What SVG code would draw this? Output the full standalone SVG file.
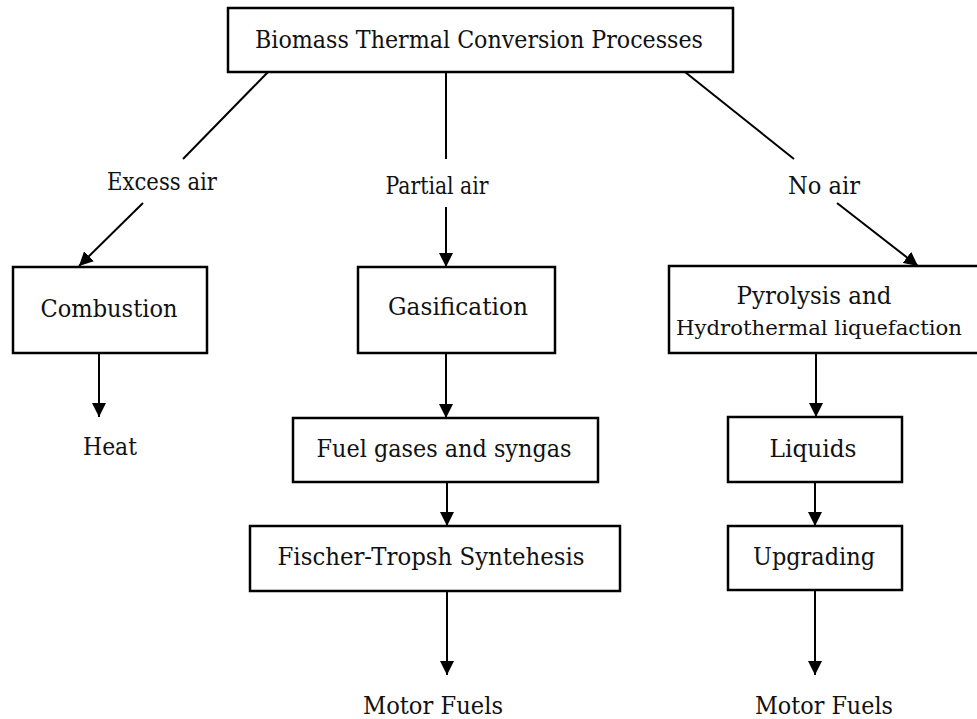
<svg xmlns="http://www.w3.org/2000/svg" width="977" height="719" viewBox="0 0 977 719">
<defs>
<marker id="ah" markerUnits="userSpaceOnUse" markerWidth="14" markerHeight="14" refX="14" refY="7" orient="auto">
<path d="M0,0 L14,7 L0,14 z" fill="#000"/>
</marker>
<style>
.box{fill:#fff;stroke:#000;stroke-width:2.5}
.ln{fill:none;stroke:#000;stroke-width:2}
.ar{fill:none;stroke:#000;stroke-width:2;marker-end:url(#ah)}
text{font-family:"DejaVu Serif","Liberation Serif",serif;font-size:24px;fill:#111;text-anchor:middle}
</style>
</defs>
<rect width="977" height="719" fill="#fff"/>
<g id="connectors">
<line class="ln" x1="268" y1="72" x2="183" y2="159"/>
<line class="ar" x1="143" y1="203" x2="79" y2="266"/>
<line class="ln" x1="446" y1="72" x2="446" y2="159"/>
<line class="ar" x1="446" y1="207" x2="446" y2="267"/>
<line class="ln" x1="685" y1="72" x2="794" y2="159"/>
<line class="ar" x1="837" y1="203" x2="918" y2="266"/>
<line class="ar" x1="99" y1="353" x2="99" y2="417"/>
<line class="ar" x1="446" y1="353" x2="446" y2="418"/>
<line class="ar" x1="447" y1="482" x2="447" y2="526"/>
<line class="ar" x1="447" y1="591" x2="447" y2="675"/>
<line class="ar" x1="816" y1="353" x2="816" y2="417"/>
<line class="ar" x1="815" y1="482" x2="815" y2="526"/>
<line class="ar" x1="815" y1="590" x2="815" y2="675"/>
</g>
<g id="title">
<rect class="box" x="228" y="8" width="505" height="64"/>
<text x="479" y="48" textLength="448" lengthAdjust="spacingAndGlyphs">Biomass Thermal Conversion Processes</text>
</g>
<g id="lbl-excess"><text x="162" y="190" textLength="110" lengthAdjust="spacingAndGlyphs">Excess air</text></g>
<g id="lbl-partial"><text x="437" y="194" textLength="103" lengthAdjust="spacingAndGlyphs">Partial air</text></g>
<g id="lbl-noair"><text x="824" y="194" textLength="72" lengthAdjust="spacingAndGlyphs">No air</text></g>
<g id="combustion">
<rect class="box" x="13" y="267" width="194" height="86"/>
<text x="109" y="317" textLength="137" lengthAdjust="spacingAndGlyphs">Combustion</text>
</g>
<g id="heat"><text x="110" y="455" textLength="54" lengthAdjust="spacingAndGlyphs">Heat</text></g>
<g id="gasification">
<rect class="box" x="358" y="267" width="197" height="86"/>
<text x="458" y="315" textLength="140" lengthAdjust="spacingAndGlyphs">Gasification</text>
</g>
<g id="fuelgases">
<rect class="box" x="293" y="418" width="305" height="64"/>
<text x="444" y="457" textLength="255" lengthAdjust="spacingAndGlyphs">Fuel gases and syngas</text>
</g>
<g id="fischer">
<rect class="box" x="250" y="526" width="370" height="65"/>
<text x="431" y="565" textLength="307" lengthAdjust="spacingAndGlyphs">Fischer-Tropsh Syntehesis</text>
</g>
<g id="motor1"><text x="433" y="714" textLength="140" lengthAdjust="spacingAndGlyphs">Motor Fuels</text></g>
<g id="pyrolysis">
<rect class="box" x="669" y="266" width="320" height="87"/>
<text x="814" y="304" textLength="155" lengthAdjust="spacingAndGlyphs">Pyrolysis and</text>
<text x="819" y="335" style="font-size:21px" textLength="286" lengthAdjust="spacingAndGlyphs">Hydrothermal liquefaction</text>
</g>
<g id="liquids">
<rect class="box" x="728" y="417" width="174" height="65"/>
<text x="813" y="457" textLength="87" lengthAdjust="spacingAndGlyphs">Liquids</text>
</g>
<g id="upgrading">
<rect class="box" x="728" y="526" width="174" height="64"/>
<text x="814" y="565" textLength="122" lengthAdjust="spacingAndGlyphs">Upgrading</text>
</g>
<g id="motor2"><text x="824" y="714" textLength="138" lengthAdjust="spacingAndGlyphs">Motor Fuels</text></g>
</svg>
